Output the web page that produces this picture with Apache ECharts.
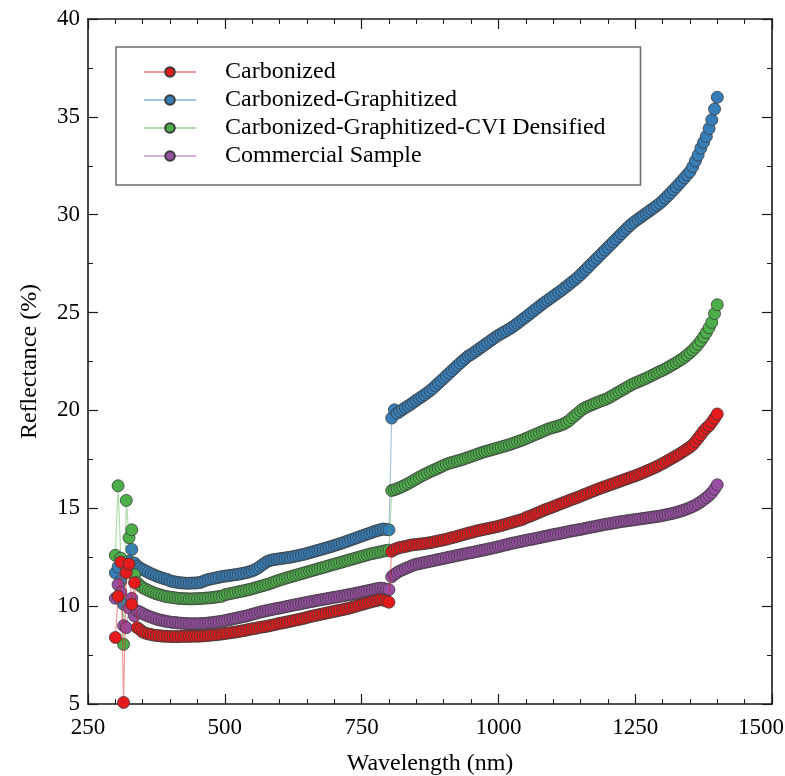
<!DOCTYPE html>
<html>
<head>
<meta charset="utf-8">
<title>Reflectance spectra</title>
<script src="https://cdn.jsdelivr.net/npm/echarts@6.0.0/dist/echarts.min.js"></script>
<style>
  html, body { margin: 0; padding: 0; background: #fff; }
  #chart { width: 785px; height: 776px; }
</style>
</head>
<body>
<div id="chart"></div>
<script>
// Wavelength grid (nm), one reading every 5 nm
const wavelengths = [
  300, 305, 310, 315, 320, 325, 330, 335, 340, 345,
  350, 355, 360, 365, 370, 375, 380, 385, 390, 395,
  400, 405, 410, 415, 420, 425, 430, 435, 440, 445,
  450, 455, 460, 465, 470, 475, 480, 485, 490, 495,
  500, 505, 510, 515, 520, 525, 530, 535, 540, 545,
  550, 555, 560, 565, 570, 575, 580, 585, 590, 595,
  600, 605, 610, 615, 620, 625, 630, 635, 640, 645,
  650, 655, 660, 665, 670, 675, 680, 685, 690, 695,
  700, 705, 710, 715, 720, 725, 730, 735, 740, 745,
  750, 755, 760, 765, 770, 775, 780, 785, 790, 795,
  800, 805, 810, 815, 820, 825, 830, 835, 840, 845,
  850, 855, 860, 865, 870, 875, 880, 885, 890, 895,
  900, 905, 910, 915, 920, 925, 930, 935, 940, 945,
  950, 955, 960, 965, 970, 975, 980, 985, 990, 995,
  1000, 1005, 1010, 1015, 1020, 1025, 1030, 1035, 1040, 1045,
  1050, 1055, 1060, 1065, 1070, 1075, 1080, 1085, 1090, 1095,
  1100, 1105, 1110, 1115, 1120, 1125, 1130, 1135, 1140, 1145,
  1150, 1155, 1160, 1165, 1170, 1175, 1180, 1185, 1190, 1195,
  1200, 1205, 1210, 1215, 1220, 1225, 1230, 1235, 1240, 1245,
  1250, 1255, 1260, 1265, 1270, 1275, 1280, 1285, 1290, 1295,
  1300, 1305, 1310, 1315, 1320, 1325, 1330, 1335, 1340, 1345,
  1350, 1355, 1360, 1365, 1370, 1375, 1380, 1385, 1390, 1395,
  1400
];

// Reflectance (%) per sample
const carbonized = [
  8.40, 10.50, 12.25, 5.08, 11.70, 12.15, 10.10, 11.20, 8.90, 8.80,
  8.68, 8.62, 8.58, 8.55, 8.52, 8.50, 8.49, 8.47, 8.46, 8.46,
  8.45, 8.44, 8.45, 8.44, 8.45, 8.46, 8.45, 8.46, 8.46, 8.47,
  8.46, 8.47, 8.48, 8.49, 8.50, 8.52, 8.53, 8.54, 8.56, 8.58,
  8.60, 8.62, 8.64, 8.66, 8.68, 8.70, 8.73, 8.75, 8.78, 8.81,
  8.84, 8.86, 8.89, 8.92, 8.94, 8.96, 8.99, 9.02, 9.05, 9.08,
  9.12, 9.14, 9.17, 9.20, 9.23, 9.26, 9.29, 9.32, 9.35, 9.38,
  9.42, 9.46, 9.49, 9.52, 9.55, 9.58, 9.61, 9.64, 9.67, 9.70,
  9.73, 9.76, 9.79, 9.82, 9.85, 9.88, 9.92, 9.96, 10.00, 10.04,
  10.08, 10.12, 10.16, 10.20, 10.24, 10.27, 10.30, 10.33, 10.31, 10.26,
  10.20, 12.80, 12.90, 12.95, 13.00, 13.02, 13.05, 13.08, 13.12, 13.14,
  13.15, 13.17, 13.18, 13.20, 13.22, 13.24, 13.27, 13.30, 13.33, 13.36,
  13.39, 13.42, 13.46, 13.50, 13.53, 13.57, 13.61, 13.65, 13.69, 13.73,
  13.76, 13.80, 13.84, 13.87, 13.90, 13.93, 13.96, 13.99, 14.02, 14.05,
  14.08, 14.12, 14.16, 14.20, 14.24, 14.28, 14.32, 14.36, 14.40, 14.44,
  14.52, 14.57, 14.62, 14.68, 14.74, 14.80, 14.86, 14.92, 14.97, 15.02,
  15.08, 15.13, 15.19, 15.24, 15.30, 15.35, 15.41, 15.46, 15.51, 15.56,
  15.62, 15.68, 15.73, 15.79, 15.84, 15.90, 15.96, 16.01, 16.06, 16.11,
  16.16, 16.21, 16.26, 16.31, 16.36, 16.41, 16.46, 16.51, 16.56, 16.61,
  16.66, 16.71, 16.77, 16.83, 16.89, 16.95, 17.01, 17.07, 17.14, 17.21,
  17.28, 17.36, 17.44, 17.52, 17.60, 17.68, 17.76, 17.85, 17.94, 18.03,
  18.13, 18.24, 18.40, 18.58, 18.76, 18.95, 19.10, 19.22, 19.40, 19.60,
  19.82
];

const graphitized = [
  11.70, 12.00, 11.30, 10.10, 12.00, 12.30, 12.90, 12.20, 12.05, 11.95,
  11.87, 11.80, 11.73, 11.66, 11.60, 11.54, 11.49, 11.44, 11.40, 11.36,
  11.29, 11.26, 11.23, 11.21, 11.19, 11.18, 11.17, 11.17, 11.18, 11.18,
  11.19, 11.21, 11.26, 11.32, 11.36, 11.39, 11.42, 11.45, 11.48, 11.51,
  11.53, 11.55, 11.57, 11.59, 11.61, 11.63, 11.66, 11.69, 11.72, 11.76,
  11.80, 11.86, 11.94, 12.04, 12.14, 12.24, 12.31, 12.35, 12.38, 12.40,
  12.42, 12.44, 12.46, 12.48, 12.50, 12.53, 12.56, 12.59, 12.62, 12.65,
  12.69, 12.73, 12.77, 12.81, 12.85, 12.89, 12.93, 12.97, 13.01, 13.05,
  13.10, 13.14, 13.19, 13.23, 13.28, 13.33, 13.38, 13.43, 13.48, 13.53,
  13.58, 13.63, 13.68, 13.73, 13.78, 13.83, 13.87, 13.91, 13.94, 13.92,
  13.90, 19.61, 20.03, 19.86, 19.95, 20.05, 20.14, 20.23, 20.32, 20.42,
  20.52, 20.61, 20.70, 20.80, 20.90, 21.00, 21.12, 21.25, 21.38, 21.51,
  21.64, 21.77, 21.90, 22.03, 22.16, 22.29, 22.42, 22.54, 22.66, 22.78,
  22.86, 22.95, 23.05, 23.15, 23.25, 23.35, 23.45, 23.55, 23.65, 23.75,
  23.84, 23.92, 24.00, 24.08, 24.16, 24.25, 24.35, 24.45, 24.56, 24.67,
  24.77, 24.88, 24.99, 25.10, 25.21, 25.32, 25.43, 25.53, 25.63, 25.73,
  25.83, 25.93, 26.03, 26.13, 26.24, 26.35, 26.46, 26.57, 26.68, 26.80,
  26.93, 27.07, 27.21, 27.35, 27.49, 27.63, 27.77, 27.91, 28.05, 28.19,
  28.33, 28.47, 28.61, 28.75, 28.89, 29.03, 29.17, 29.31, 29.44, 29.56,
  29.67, 29.77, 29.87, 29.97, 30.07, 30.17, 30.27, 30.37, 30.47, 30.58,
  30.70, 30.84, 30.98, 31.12, 31.27, 31.42, 31.57, 31.72, 31.88, 32.04,
  32.20, 32.45, 32.75, 33.05, 33.40, 33.70, 34.00, 34.40, 34.85, 35.40,
  36.00
];

const cviDensified = [
  12.60, 16.15, 12.45, 8.05, 15.40, 13.50, 13.90, 11.60, 11.20, 11.05,
  10.95, 10.87, 10.80, 10.74, 10.68, 10.63, 10.59, 10.55, 10.51, 10.48,
  10.46, 10.44, 10.42, 10.40, 10.39, 10.38, 10.38, 10.37, 10.37, 10.38,
  10.38, 10.39, 10.40, 10.41, 10.42, 10.43, 10.45, 10.47, 10.49, 10.51,
  10.58, 10.61, 10.64, 10.67, 10.70, 10.73, 10.76, 10.79, 10.82, 10.85,
  10.89, 10.93, 10.97, 11.01, 11.05, 11.09, 11.13, 11.18, 11.23, 11.28,
  11.33, 11.37, 11.42, 11.46, 11.50, 11.54, 11.58, 11.62, 11.66, 11.70,
  11.74, 11.78, 11.82, 11.86, 11.90, 11.94, 11.98, 12.02, 12.06, 12.10,
  12.14, 12.18, 12.22, 12.26, 12.30, 12.34, 12.38, 12.42, 12.46, 12.50,
  12.54, 12.58, 12.62, 12.66, 12.69, 12.72, 12.75, 12.78, 12.81, 12.84,
  12.86, 15.91, 15.95, 16.00, 16.06, 16.12, 16.19, 16.26, 16.34, 16.42,
  16.50, 16.58, 16.66, 16.73, 16.80, 16.87, 16.93, 16.99, 17.05, 17.12,
  17.19, 17.25, 17.30, 17.34, 17.38, 17.42, 17.46, 17.50, 17.55, 17.60,
  17.65, 17.70, 17.75, 17.80, 17.85, 17.89, 17.93, 17.97, 18.01, 18.05,
  18.09, 18.13, 18.17, 18.21, 18.25, 18.30, 18.35, 18.40, 18.45, 18.50,
  18.56, 18.62, 18.68, 18.74, 18.80, 18.86, 18.92, 18.98, 19.04, 19.09,
  19.13, 19.17, 19.21, 19.26, 19.32, 19.40, 19.50, 19.62, 19.74, 19.86,
  19.98, 20.08, 20.16, 20.22, 20.28, 20.34, 20.40, 20.46, 20.51, 20.56,
  20.62, 20.70, 20.78, 20.86, 20.94, 21.02, 21.10, 21.18, 21.26, 21.34,
  21.40, 21.46, 21.52, 21.58, 21.64, 21.71, 21.78, 21.85, 21.92, 21.99,
  22.05, 22.12, 22.20, 22.28, 22.36, 22.44, 22.53, 22.62, 22.72, 22.83,
  22.95, 23.08, 23.22, 23.38, 23.56, 23.76, 23.98, 24.22, 24.50, 24.95,
  25.40
];

const commercial = [
  10.40, 11.10, 10.70, 9.00, 8.90, 9.90, 10.40, 9.50, 9.75, 9.70,
  9.62, 9.55, 9.49, 9.44, 9.39, 9.34, 9.30, 9.27, 9.24, 9.21,
  9.19, 9.17, 9.16, 9.14, 9.13, 9.12, 9.11, 9.10, 9.10, 9.10,
  9.10, 9.11, 9.11, 9.12, 9.14, 9.15, 9.17, 9.19, 9.21, 9.23,
  9.26, 9.29, 9.32, 9.35, 9.38, 9.41, 9.44, 9.47, 9.50, 9.54,
  9.58, 9.62, 9.66, 9.70, 9.73, 9.76, 9.79, 9.82, 9.85, 9.88,
  9.90, 9.93, 9.96, 9.99, 10.02, 10.05, 10.08, 10.10, 10.13, 10.16,
  10.19, 10.22, 10.24, 10.27, 10.30, 10.32, 10.35, 10.37, 10.40, 10.42,
  10.45, 10.47, 10.50, 10.52, 10.55, 10.58, 10.60, 10.63, 10.66, 10.69,
  10.72, 10.75, 10.78, 10.81, 10.84, 10.87, 10.90, 10.92, 10.90, 10.87,
  10.84, 11.50, 11.62, 11.72, 11.80, 11.86, 11.92, 11.98, 12.04, 12.10,
  12.14, 12.17, 12.20, 12.23, 12.26, 12.29, 12.32, 12.35, 12.38, 12.41,
  12.44, 12.47, 12.50, 12.53, 12.56, 12.59, 12.62, 12.65, 12.68, 12.71,
  12.73, 12.76, 12.79, 12.82, 12.85, 12.88, 12.91, 12.94, 12.97, 13.00,
  13.04, 13.07, 13.11, 13.14, 13.18, 13.21, 13.24, 13.27, 13.30, 13.33,
  13.36, 13.39, 13.41, 13.44, 13.47, 13.50, 13.53, 13.56, 13.59, 13.62,
  13.65, 13.68, 13.70, 13.73, 13.76, 13.79, 13.82, 13.85, 13.87, 13.90,
  13.92, 13.95, 13.98, 14.01, 14.04, 14.06, 14.09, 14.12, 14.15, 14.18,
  14.20, 14.22, 14.25, 14.27, 14.30, 14.32, 14.34, 14.36, 14.38, 14.40,
  14.42, 14.44, 14.46, 14.48, 14.50, 14.52, 14.54, 14.56, 14.58, 14.60,
  14.63, 14.66, 14.69, 14.72, 14.75, 14.79, 14.83, 14.87, 14.92, 14.97,
  15.03, 15.09, 15.16, 15.24, 15.33, 15.43, 15.54, 15.66, 15.80, 15.98,
  16.20
];

const seriesNames = [
  'Carbonized',
  'Carbonized-Graphitized',
  'Carbonized-Graphitized-CVI Densified',
  'Commercial Sample'
];
const seriesValues = [carbonized, graphitized, cviDensified, commercial];
const seriesColors = ['#e41a1c', '#377eb8', '#4daf4a', '#984ea3'];
const seriesZ = [6, 3, 4, 5];

const xTicks = { min: 250, max: 1500, interval: 250 };
const yTicks = { min: 5, max: 40, interval: 5 };

const serif = 'Liberation Serif, Times New Roman, serif';
const ink = '#1a1a1a';

const chart = echarts.init(document.getElementById('chart'), null, { renderer: 'canvas' });

// Shared styling for the four sides of the plot frame
function frameAxis(extra) {
  return Object.assign({
    axisLine: { show: true, onZero: false, lineStyle: { color: ink, width: 1.6 } },
    axisTick: { show: true, inside: true, length: 10, lineStyle: { color: ink, width: 1.2 } },
    minorTick: { show: true, length: 5, lineStyle: { color: ink, width: 1 } },
    splitLine: { show: false },
    minorSplitLine: { show: false }
  }, extra);
}

const plainNumber = v => String(v);
// The last wavelength label is nudged left so it stays inside the page
const wavelengthLabel = v => (v === xTicks.max ? '{edge|' + v + '}' : String(v));

const option = {
  animation: false,
  backgroundColor: '#ffffff',
  grid: { left: 88, right: 13, top: 19, bottom: 72, containLabel: false, outerBoundsMode: 'none' },
  legend: {
    orient: 'vertical',
    left: 116,
    top: 47,
    padding: [13, 35, 17, 27],
    itemWidth: 52,
    itemHeight: 12,
    itemGap: 4,
    borderColor: '#6e6e6e',
    borderWidth: 1.6,
    backgroundColor: '#ffffff',
    data: seriesNames,
    textStyle: {
      fontFamily: serif,
      fontSize: 24,
      color: '#000',
      lineHeight: 24,
      padding: [0, 0, 0, 24]
    }
  },
  xAxis: [
    frameAxis({
      type: 'value',
      position: 'bottom',
      min: xTicks.min, max: xTicks.max, interval: xTicks.interval,
      minorTick: { show: true, splitNumber: 5, length: 5, lineStyle: { color: ink, width: 1 } },
      name: 'Wavelength (nm)',
      nameLocation: 'middle',
      nameGap: 48,
      nameTextStyle: { fontFamily: serif, fontSize: 24, color: '#000' },
      axisLabel: {
        fontFamily: serif, fontSize: 23, color: '#000', margin: 12,
        formatter: wavelengthLabel,
        rich: { edge: { fontFamily: serif, fontSize: 23, color: '#000', padding: [0, 22, 0, 0] } }
      }
    }),
    frameAxis({
      type: 'value',
      position: 'top',
      min: xTicks.min, max: xTicks.max, interval: xTicks.interval,
      minorTick: { show: true, splitNumber: 5, length: 5, lineStyle: { color: ink, width: 1 } },
      axisLabel: { show: false }
    })
  ],
  yAxis: [
    frameAxis({
      type: 'value',
      position: 'left',
      min: yTicks.min, max: yTicks.max, interval: yTicks.interval,
      minorTick: { show: true, splitNumber: 2, length: 5, lineStyle: { color: ink, width: 1 } },
      name: 'Reflectance (%)',
      nameLocation: 'middle',
      nameGap: 46,
      nameTextStyle: { fontFamily: serif, fontSize: 24, color: '#000' },
      axisLabel: { fontFamily: serif, fontSize: 23, color: '#000', margin: 8, formatter: plainNumber }
    }),
    frameAxis({
      type: 'value',
      position: 'right',
      min: yTicks.min, max: yTicks.max, interval: yTicks.interval,
      minorTick: { show: true, splitNumber: 2, length: 5, lineStyle: { color: ink, width: 1 } },
      axisLabel: { show: false }
    })
  ],
  series: seriesNames.map((name, i) => ({
    name: name,
    type: 'line',
    xAxisIndex: 0,
    yAxisIndex: 0,
    z: seriesZ[i],
    data: wavelengths.map((w, k) => [w, seriesValues[i][k]]),
    symbol: 'circle',
    symbolSize: 12,
    showAllSymbol: true,
    smooth: false,
    lineStyle: { color: seriesColors[i], width: 1.2, opacity: 0.45 },
    itemStyle: { color: seriesColors[i], borderColor: '#3a3a3a', borderWidth: 0.8, opacity: 1 },
    emphasis: { disabled: true }
  }))
};

chart.setOption(option);
</script>
</body>
</html>
